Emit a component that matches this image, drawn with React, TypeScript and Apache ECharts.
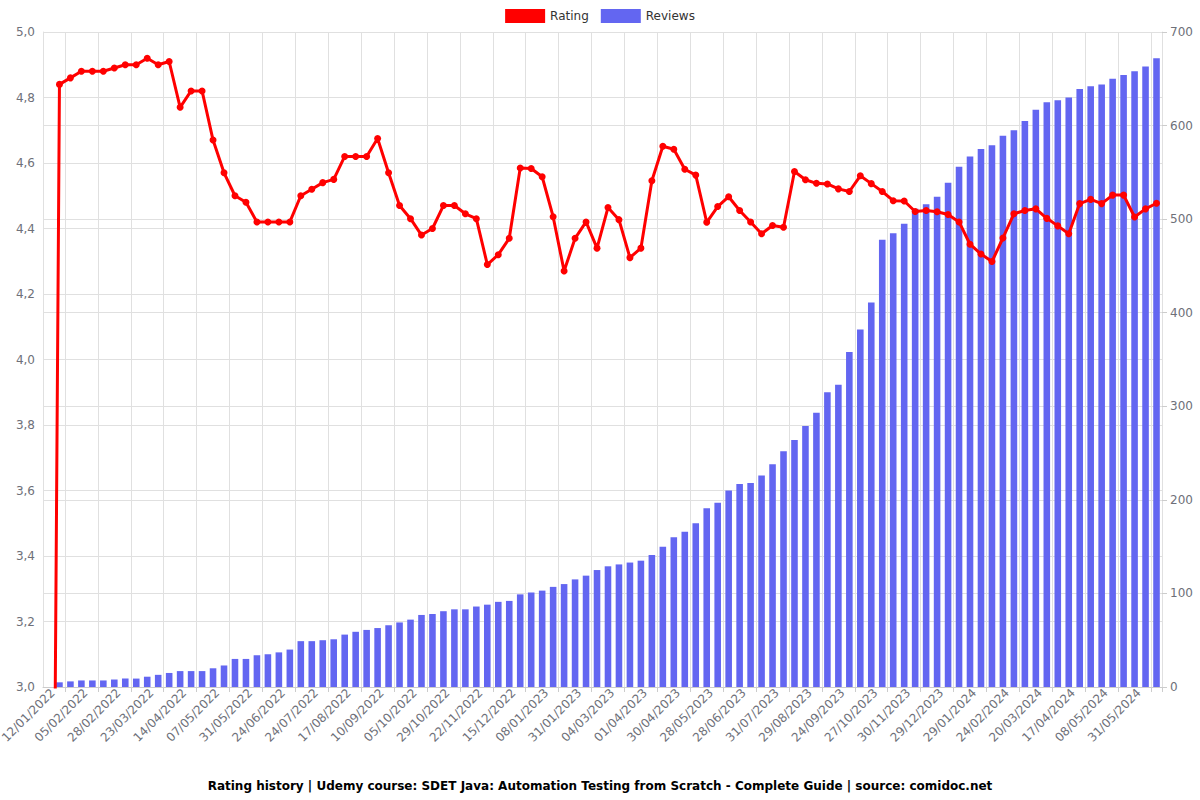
import React, { useEffect, useRef } from "react";
import * as echarts from "echarts";

const dates: string[] = [
  "12/01/2022", "20/01/2022", "28/01/2022", "05/02/2022", "13/02/2022", "20/02/2022",
  "28/02/2022", "08/03/2022", "15/03/2022", "23/03/2022", "30/03/2022", "07/04/2022",
  "14/04/2022", "22/04/2022", "29/04/2022", "07/05/2022", "15/05/2022", "23/05/2022",
  "31/05/2022", "08/06/2022", "16/06/2022", "24/06/2022", "04/07/2022", "14/07/2022",
  "24/07/2022", "01/08/2022", "09/08/2022", "17/08/2022", "25/08/2022", "02/09/2022",
  "10/09/2022", "18/09/2022", "27/09/2022", "05/10/2022", "13/10/2022", "21/10/2022",
  "29/10/2022", "06/11/2022", "14/11/2022", "22/11/2022", "30/11/2022", "07/12/2022",
  "15/12/2022", "23/12/2022", "31/12/2022", "08/01/2023", "16/01/2023", "23/01/2023",
  "31/01/2023", "11/02/2023", "21/02/2023", "04/03/2023", "13/03/2023", "23/03/2023",
  "01/04/2023", "11/04/2023", "20/04/2023", "30/04/2023", "09/05/2023", "18/05/2023",
  "28/05/2023", "07/06/2023", "18/06/2023", "28/06/2023", "09/07/2023", "20/07/2023",
  "31/07/2023", "10/08/2023", "19/08/2023", "29/08/2023", "07/09/2023", "15/09/2023",
  "24/09/2023", "05/10/2023", "16/10/2023", "27/10/2023", "07/11/2023", "19/11/2023",
  "30/11/2023", "10/12/2023", "19/12/2023", "29/12/2023", "08/01/2024", "19/01/2024",
  "29/01/2024", "06/02/2024", "15/02/2024", "24/02/2024", "03/03/2024", "11/03/2024",
  "20/03/2024", "29/03/2024", "08/04/2024", "17/04/2024", "24/04/2024", "01/05/2024",
  "08/05/2024", "16/05/2024", "23/05/2024", "31/05/2024", "08/06/2024", "16/06/2024",
];

const ratings: number[] = [
  0, 4.84, 4.86, 4.88, 4.88, 4.88, 4.89, 4.9, 4.9, 4.92, 4.9, 4.91,
  4.77, 4.82, 4.82, 4.67, 4.57, 4.5, 4.48, 4.42, 4.42, 4.42, 4.42, 4.5,
  4.52, 4.54, 4.55, 4.62, 4.62, 4.62, 4.675, 4.57, 4.47, 4.43, 4.38, 4.4,
  4.47, 4.47, 4.445, 4.43, 4.29, 4.32, 4.37, 4.585, 4.583, 4.558, 4.436, 4.27,
  4.37, 4.42, 4.34, 4.464, 4.427, 4.311, 4.34, 4.546, 4.651, 4.642, 4.581, 4.563,
  4.419, 4.467, 4.497, 4.455, 4.42, 4.384, 4.409, 4.404, 4.574, 4.549, 4.538, 4.536,
  4.521, 4.513, 4.561, 4.537, 4.513, 4.485, 4.484, 4.452, 4.455, 4.451, 4.443, 4.42,
  4.352, 4.322, 4.299, 4.371, 4.445, 4.455, 4.46, 4.431, 4.408, 4.384, 4.476, 4.489,
  4.476, 4.502, 4.502, 4.435, 4.46, 4.477,
];

const reviews: number[] = [
  0, 5, 6, 7, 7, 7, 8, 9, 9, 11, 13, 15,
  17, 17, 17, 20, 23, 30, 30, 34, 35, 37, 40, 49,
  49, 50, 51, 56, 59, 61, 63, 66, 69, 72, 77, 78,
  81, 83, 83, 86, 88, 91, 92, 99, 101, 103, 107, 110,
  115, 119, 125, 129, 131, 133, 135, 141, 150, 160, 166, 175,
  191, 197, 210, 217, 218, 226, 238, 252, 264, 279, 293, 315,
  323, 358, 382, 411, 478, 485, 495, 511, 516, 524, 539, 556,
  567, 575, 579, 589, 595, 605, 617, 625, 627, 630, 639, 642,
  644, 650, 654, 658, 663, 672,
];

const titleText =
  "Rating history | Udemy course: SDET Java: Automation Testing from Scratch - Complete Guide | source: comidoc.net";

const gridColor = "#e0e0e0";
const font = "DejaVu Sans";

export default function App() {
  const ref = useRef<HTMLDivElement>(null);

  useEffect(() => {
    if (!ref.current) return;
    const chart = echarts.init(ref.current, undefined, { renderer: "svg" });
    chart.setOption({
      animation: false,
      backgroundColor: "#ffffff",
      textStyle: { fontFamily: font },
      title: {
        text: titleText,
        left: "center",
        top: 775,
        textStyle: { fontSize: 12, fontWeight: "bold", color: "#000000", fontFamily: font },
      },
      legend: {
        top: 4,
        left: "center",
        icon: "rect",
        itemWidth: 40,
        itemHeight: 14,
        itemGap: 12,
        textStyle: { fontSize: 12, color: "#333333", fontFamily: font },
        data: ["Rating", "Reviews"],
      },
      grid: { left: 43, right: 38, top: 32, bottom: 113, outerBoundsMode: "none" },
      xAxis: {
        type: "category",
        data: dates,
        boundaryGap: true,
        axisLine: { show: true, lineStyle: { color: "#cccccc" } },
        axisTick: {
          show: true,
          interval: (i: number) => i % 3 === 2,
          lineStyle: { color: "#cccccc" },
        },
        axisLabel: {
          interval: 2,
          rotate: 45,
          fontSize: 12,
          color: "#6E7079",
          fontFamily: font,
          padding: [11, -6, 0, 0],
        },
        splitLine: {
          show: true,
          interval: (i: number) => i % 3 === 2,
          lineStyle: { color: gridColor },
        },
      },
      yAxis: [
        {
          type: "value",
          min: 3,
          max: 5,
          interval: 0.2,
          position: "left",
          axisLine: { show: true, lineStyle: { color: gridColor } },
          axisTick: { show: false },
          axisLabel: {
            fontSize: 12,
            color: "#6E7079",
            fontFamily: font,
            formatter: (v: number) => v.toFixed(1).replace(".", ","),
          },
          splitLine: { show: true, lineStyle: { color: gridColor } },
        },
        {
          type: "value",
          min: 0,
          max: 700,
          interval: 100,
          position: "right",
          axisLine: { show: true, lineStyle: { color: gridColor } },
          axisTick: { show: true, lineStyle: { color: "#cccccc" } },
          axisLabel: { fontSize: 12, color: "#6E7079", fontFamily: font },
          splitLine: { show: true, lineStyle: { color: gridColor } },
        },
      ],
      series: [
        {
          name: "Rating",
          type: "line",
          yAxisIndex: 0,
          data: ratings,
          z: 3,
          symbol: "circle",
          symbolSize: 7,
          lineStyle: { color: "#ff0000", width: 3 },
          itemStyle: { color: "#ff0000" },
        },
        {
          name: "Reviews",
          type: "bar",
          yAxisIndex: 1,
          data: reviews,
          barWidth: "60%",
          itemStyle: { color: "#6366f1" },
        },
      ],
    });
    return () => chart.dispose();
  }, []);

  return (
    <div
      ref={ref}
      style={{ position: "fixed", left: 0, top: 0, width: 1200, height: 800, background: "#fff" }}
    />
  );
}
